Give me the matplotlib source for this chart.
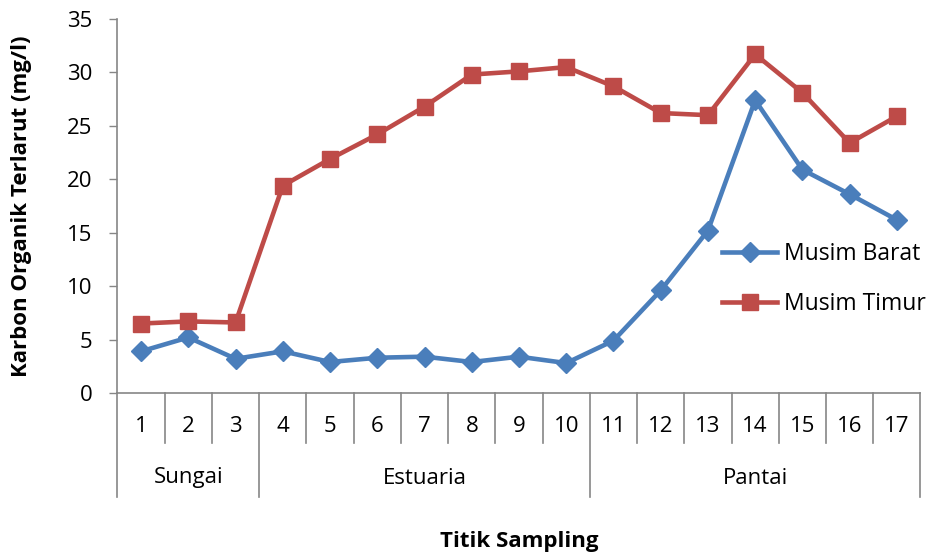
import matplotlib
matplotlib.use("Agg")
import matplotlib.pyplot as plt
import matplotlib.transforms as mtransforms

points = [str(i) for i in range(1, 18)]
groups = ["Sungai", "Estuaria", "Pantai"]
group_sizes = [3, 7, 7]
musim_barat = [3.9, 5.2, 3.2, 3.9, 2.9, 3.3, 3.4, 2.9, 3.4, 2.8, 4.9, 9.6, 15.2, 27.4, 20.9, 18.6, 16.2]
musim_timur = [6.5, 6.7, 6.6, 19.4, 21.9, 24.2, 26.8, 29.8, 30.1, 30.5, 28.7, 26.2, 26.0, 31.7, 28.1, 23.4, 25.9]
yticks = [0, 5, 10, 15, 20, 25, 30, 35]

plt.rcParams['font.family'] = ['Open Sans', 'DejaVu Sans']
FS = 16
W, H = 928, 557
fig = plt.figure(figsize=(W / 100, H / 100), dpi=100)
left_px, right_px, top_px, bot_px = 117.5, 920.5, 19, 393
ax = fig.add_axes([left_px / W, 1 - bot_px / H, (right_px - left_px) / W, (bot_px - top_px) / H])

blue = "#4A7EBB"
red = "#BE4B48"
grey = "#868686"
x = list(range(len(points)))
ax.plot(x, musim_barat, color=blue, lw=3.3, marker='D', ms=10, label="Musim Barat", solid_joinstyle='round')
ax.plot(x, musim_timur, color=red, lw=3.3, marker='s', ms=11, label="Musim Timur", solid_joinstyle='round')

ax.set_xlim(-0.5, len(points) - 0.5)
ax.set_ylim(0, 35)
ax.set_yticks(yticks)
ax.tick_params(axis='y', direction='out', length=6, width=1, color=grey, labelsize=FS, pad=12)
ax.set_xticks([])
for s in ['top', 'right']:
    ax.spines[s].set_visible(False)
for s in ['left', 'bottom']:
    ax.spines[s].set_color(grey)
    ax.spines[s].set_linewidth(1.2)

trans = mtransforms.blended_transform_factory(ax.transData, ax.transAxes)
ah = bot_px - top_px
y_small = -(443 - bot_px) / ah
y_big = -(497 - bot_px) / ah
y_num = -(426 - bot_px) / ah
y_grp = -(478 - bot_px) / ah
y_xlab = -(541 - bot_px) / ah

boundaries = set()
pos = -0.5
boundaries.add(pos)
for g in group_sizes:
    pos += g
    boundaries.add(pos)
for i in range(len(points) + 1):
    b = i - 0.5
    yend = y_big if b in boundaries else y_small
    ax.plot([b, b], [0, yend], color=grey, lw=1.2, transform=trans, clip_on=False)
for i, p in enumerate(points):
    ax.text(i, y_num, p, transform=trans, ha='center', va='center', fontsize=FS)
start = 0
for g, n in zip(groups, group_sizes):
    ax.text(start + (n - 1) / 2, y_grp, g, transform=trans, ha='center', va='center', fontsize=FS)
    start += n

ax.text(0.5, y_xlab, "Titik Sampling", transform=ax.transAxes, ha='center', va='center',
        fontsize=FS, fontweight='bold')
fig.text(22 / W, 1 - 206 / H, "Karbon Organik Terlarut (mg/l)", rotation=90, ha='center', va='center',
         fontsize=FS, fontweight='bold')

leg = ax.legend(loc='upper left', bbox_to_anchor=(722 / W, 1 - 242 / H), bbox_transform=fig.transFigure,
                frameon=False, fontsize=16.5, handlelength=2.4, handletextpad=0.3, labelspacing=1.15,
                borderpad=0, borderaxespad=0)

fig.savefig("out.png", dpi=100)
